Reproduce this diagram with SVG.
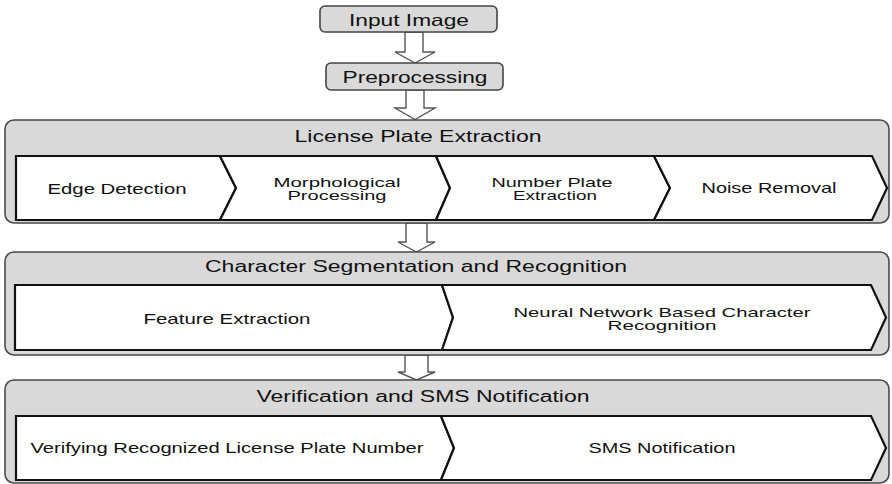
<svg xmlns="http://www.w3.org/2000/svg" width="892" height="484" viewBox="0 0 892 484">
<style>
text{font-family:"Liberation Sans",Arial,sans-serif;fill:#111;text-anchor:middle}
.small{fill:#d9d9d9;stroke:#444;stroke-width:1.6}
.outer{fill:#d9d9d9;stroke:#4a4a4a;stroke-width:1.6}
.chev{fill:#fff;stroke:#111;stroke-width:2.2;stroke-linejoin:miter}
.arr{fill:#fff;stroke:#555;stroke-width:1.4}
.t1{font-size:16.5px}
.t2{font-size:16px}
.t3{font-size:14.5px}
.t4{font-size:13.5px}
</style>
<rect width="892" height="484" fill="#fff"/>
<g id="connectors">
<polygon class="arr" points="405,32 423,32 423,52 435,52 415,63 395,52 405,52"/>
<polygon class="arr" points="406,90 424,90 424,108 435,108 415,119.5 395,108 406,108"/>
<polygon class="arr" points="406,223 427,223 427,242 435,242 416.5,252 398,242 406,242"/>
<polygon class="arr" points="405,355 428,355 428,372 435,372 416.5,380 398,372 405,372"/>
</g>
<g id="input-image">
<rect class="small" x="320" y="6" width="177" height="26" rx="5"/>
<text class="t1" x="409" y="26" textLength="120" lengthAdjust="spacingAndGlyphs">Input Image</text>
</g>
<g id="preprocessing">
<rect class="small" x="326" y="63" width="177" height="27" rx="5"/>
<text class="t1" x="415" y="83" textLength="145" lengthAdjust="spacingAndGlyphs">Preprocessing</text>
</g>
<g id="license-plate-extraction">
<rect class="outer" x="5" y="120" width="884" height="103" rx="9"/>
<text class="t2" x="418" y="142" textLength="247" lengthAdjust="spacingAndGlyphs">License Plate Extraction</text>
<g id="edge-detection">
<polygon class="chev" points="16,156 220,156 236,188 220,220 16,220"/>
<text class="t3" x="117" y="194" textLength="139" lengthAdjust="spacingAndGlyphs">Edge Detection</text>
</g>
<g id="morphological-processing">
<polygon class="chev" points="220,156 436,156 450,188 436,220 220,220 236,188"/>
<text class="t4" x="337" y="186.5" textLength="127" lengthAdjust="spacingAndGlyphs">Morphological</text>
<text class="t4" x="337" y="200" textLength="99" lengthAdjust="spacingAndGlyphs">Processing</text>
</g>
<g id="number-plate-extraction">
<polygon class="chev" points="436,156 654,156 670,188 654,220 436,220 450,188"/>
<text class="t4" x="552" y="186.5" textLength="121" lengthAdjust="spacingAndGlyphs">Number Plate</text>
<text class="t4" x="555" y="200" textLength="84" lengthAdjust="spacingAndGlyphs">Extraction</text>
</g>
<g id="noise-removal">
<polygon class="chev" points="654,156 872,156 887,188 872,220 654,220 670,188"/>
<text class="t3" x="769" y="193" textLength="135" lengthAdjust="spacingAndGlyphs">Noise Removal</text>
</g>
</g>
<g id="character-segmentation">
<rect class="outer" x="5" y="252" width="884" height="103" rx="9"/>
<text class="t2" x="416" y="272" textLength="422" lengthAdjust="spacingAndGlyphs">Character Segmentation and Recognition</text>
<g id="feature-extraction">
<polygon class="chev" points="15,285 442,285 453,317.5 442,350 15,350"/>
<text class="t3" x="227" y="324" textLength="167" lengthAdjust="spacingAndGlyphs">Feature Extraction</text>
</g>
<g id="neural-network">
<polygon class="chev" points="442,285 871,285 886,317.5 871,350 442,350 453,317.5"/>
<text class="t4" x="662" y="316.5" textLength="297" lengthAdjust="spacingAndGlyphs">Neural Network Based Character</text>
<text class="t4" x="662" y="330" textLength="109" lengthAdjust="spacingAndGlyphs">Recognition</text>
</g>
</g>
<g id="verification">
<rect class="outer" x="5" y="380" width="884" height="103" rx="9"/>
<text class="t2" x="423" y="402" textLength="333" lengthAdjust="spacingAndGlyphs">Verification and SMS Notification</text>
<g id="verifying">
<polygon class="chev" points="16,416 441,416 454,448 441,480 16,480"/>
<text class="t3" x="227" y="453" textLength="393" lengthAdjust="spacingAndGlyphs">Verifying Recognized License Plate Number</text>
</g>
<g id="sms-notification">
<polygon class="chev" points="441,416 871,416 886,448 871,480 441,480 454,448"/>
<text class="t3" x="662" y="453" textLength="147" lengthAdjust="spacingAndGlyphs">SMS Notification</text>
</g>
</g>
</svg>
